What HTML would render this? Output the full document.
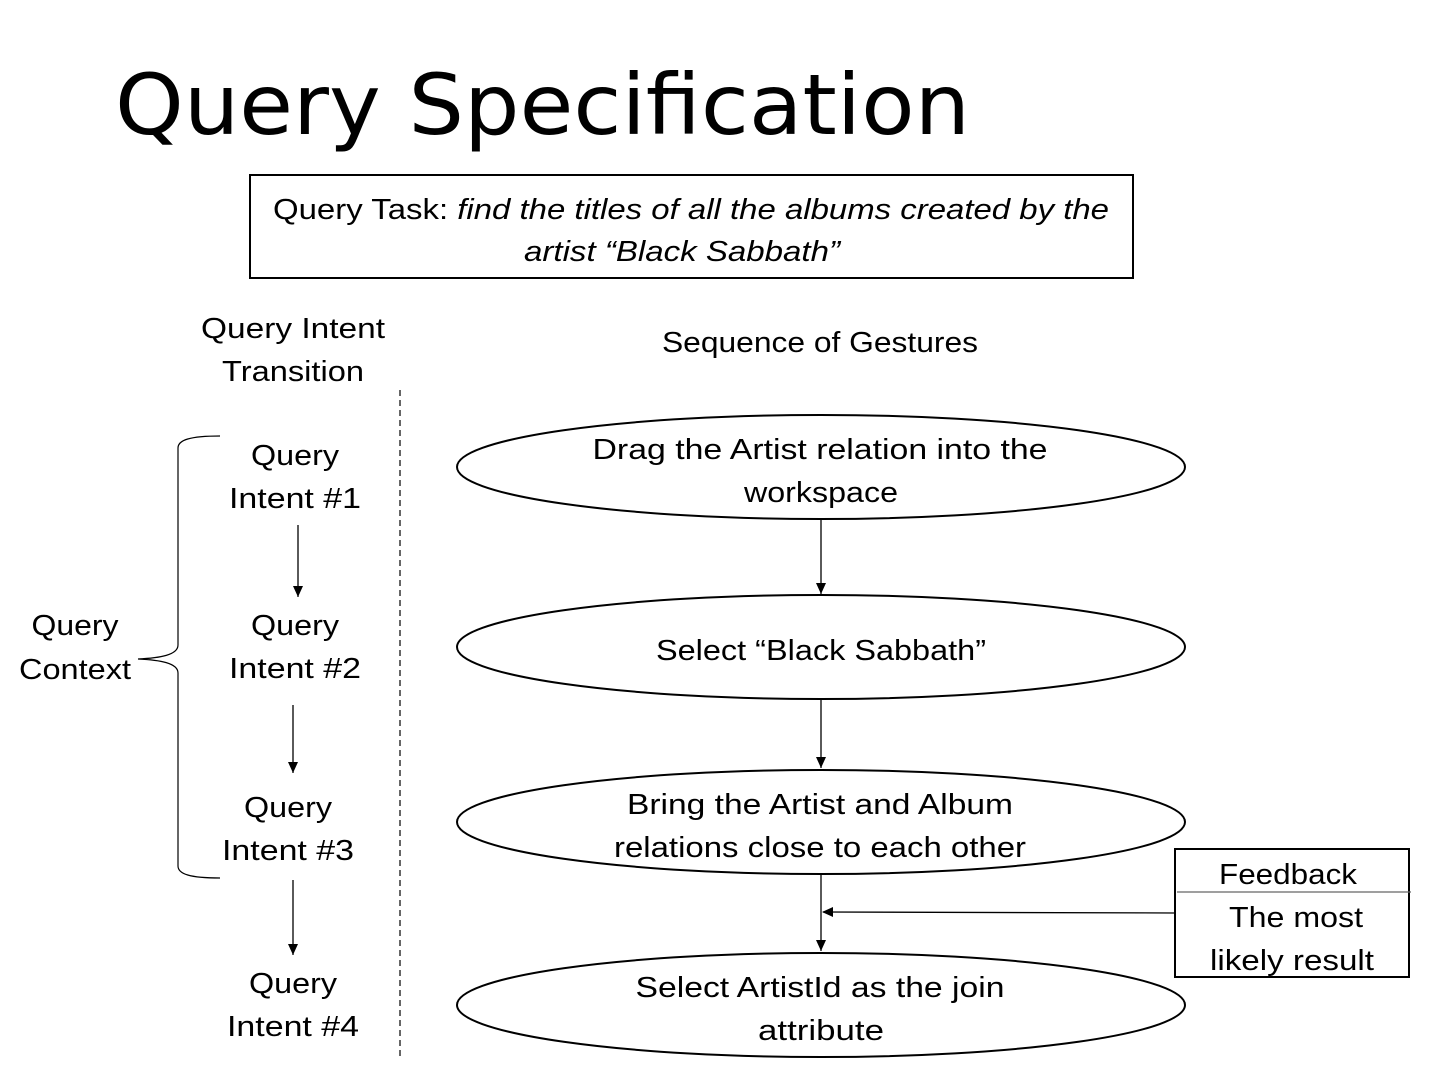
<!DOCTYPE html>
<html><head><meta charset="utf-8"><style>html,body{margin:0;padding:0;background:#fff}svg{display:block}</style></head>
<body>
<svg width="1440" height="1080" viewBox="0 0 1440 1080" xmlns="http://www.w3.org/2000/svg" font-family="'Liberation Sans', sans-serif" font-size="29" fill="#000">
<defs>
<marker id="d" markerWidth="12" markerHeight="12" refX="6" refY="11" orient="0" markerUnits="userSpaceOnUse"><path d="M1,0 L11,0 L6,11 z" fill="#000"/></marker>
<marker id="l" markerWidth="12" markerHeight="12" refX="1" refY="6" orient="0" markerUnits="userSpaceOnUse"><path d="M0,6 L11,1 L11,11 z" fill="#000"/></marker></defs>
<text x="115" y="134" font-family="'DejaVu Sans', sans-serif" font-size="84" textLength="855" lengthAdjust="spacingAndGlyphs">Query Specification</text>
<rect x="250" y="175" width="883" height="103" fill="none" stroke="#000" stroke-width="2"/>
<text x="691" y="219" text-anchor="middle" textLength="836" lengthAdjust="spacingAndGlyphs">Query Task: <tspan font-style="italic">find the titles of all the albums created by the</tspan></text>
<text x="682" y="261" text-anchor="middle" font-style="italic" textLength="316" lengthAdjust="spacingAndGlyphs">artist “Black Sabbath”</text>
<g text-anchor="middle" lengthAdjust="spacingAndGlyphs">
<text x="293" y="338" textLength="184" lengthAdjust="spacingAndGlyphs">Query Intent</text><text x="293" y="381" textLength="142" lengthAdjust="spacingAndGlyphs">Transition</text>
<text x="820" y="352" textLength="316" lengthAdjust="spacingAndGlyphs">Sequence of Gestures</text>
<text x="295" y="465" textLength="88" lengthAdjust="spacingAndGlyphs">Query</text><text x="295" y="508" textLength="132" lengthAdjust="spacingAndGlyphs">Intent #1</text>
<text x="295" y="635" textLength="88" lengthAdjust="spacingAndGlyphs">Query</text><text x="295" y="678" textLength="132" lengthAdjust="spacingAndGlyphs">Intent #2</text>
<text x="288" y="817" textLength="88" lengthAdjust="spacingAndGlyphs">Query</text><text x="288" y="860" textLength="132" lengthAdjust="spacingAndGlyphs">Intent #3</text>
<text x="293" y="993" textLength="88" lengthAdjust="spacingAndGlyphs">Query</text><text x="293" y="1036" textLength="132" lengthAdjust="spacingAndGlyphs">Intent #4</text>
<text x="75" y="635" textLength="87" lengthAdjust="spacingAndGlyphs">Query</text><text x="75" y="679" textLength="112" lengthAdjust="spacingAndGlyphs">Context</text>
</g>
<line x1="400" y1="390" x2="400" y2="1060" stroke="#000" stroke-width="1.2" stroke-dasharray="6,4"/>
<path d="M220,436 C190,436 178,440 178,448 L178,645 C178,655 160,658 138,659 C160,660 178,663 178,673 L178,866 C178,874 190,878 220,878" fill="none" stroke="#000" stroke-width="1.2"/>
<g stroke="#000" stroke-width="1.3">
<line x1="298" y1="525" x2="298" y2="597" marker-end="url(#d)"/>
<line x1="293" y1="705" x2="293" y2="773" marker-end="url(#d)"/>
<line x1="293" y1="880" x2="293" y2="955" marker-end="url(#d)"/>
<line x1="821" y1="518" x2="821" y2="594" marker-end="url(#d)"/>
<line x1="821" y1="698" x2="821" y2="768" marker-end="url(#d)"/>
<line x1="821" y1="874" x2="821" y2="951" marker-end="url(#d)"/>
<line x1="1175" y1="913" x2="823" y2="912" marker-end="url(#l)"/>
</g>
<g fill="none" stroke="#000" stroke-width="2">
<ellipse cx="821" cy="467" rx="364" ry="52"/>
<ellipse cx="821" cy="647" rx="364" ry="52"/>
<ellipse cx="821" cy="822" rx="364" ry="52"/>
<ellipse cx="821" cy="1005" rx="364" ry="52"/>
<rect x="1175" y="849" width="234" height="128"/>
</g>
<line x1="1177" y1="892" x2="1411" y2="892" stroke="#666" stroke-width="1.3"/>
<g text-anchor="middle">
<text x="820" y="459" textLength="455" lengthAdjust="spacingAndGlyphs">Drag the Artist relation into the</text><text x="821" y="502" textLength="154" lengthAdjust="spacingAndGlyphs">workspace</text>
<text x="821" y="660" textLength="330" lengthAdjust="spacingAndGlyphs">Select “Black Sabbath”</text>
<text x="820" y="814" textLength="386" lengthAdjust="spacingAndGlyphs">Bring the Artist and Album</text><text x="820" y="857" textLength="412" lengthAdjust="spacingAndGlyphs">relations close to each other</text>
<text x="820" y="997" textLength="369" lengthAdjust="spacingAndGlyphs">Select ArtistId  as the join</text><text x="821" y="1040" textLength="126" lengthAdjust="spacingAndGlyphs">attribute</text>
<text x="1288" y="884" textLength="138" lengthAdjust="spacingAndGlyphs">Feedback</text>
<text x="1296" y="927" textLength="134" lengthAdjust="spacingAndGlyphs">The most</text><text x="1292" y="970" textLength="164" lengthAdjust="spacingAndGlyphs">likely result</text>
</g>
</svg>
</body></html>
